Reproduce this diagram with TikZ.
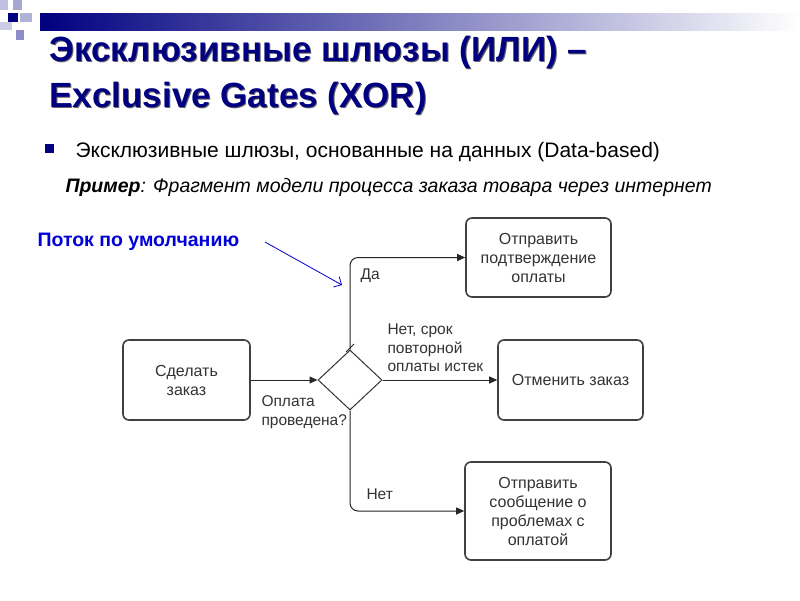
\documentclass[tikz,border=0pt]{standalone}
\usepackage{fontspec}
\setmainfont{Liberation Sans}
\usetikzlibrary{shapes.geometric,arrows.meta}
\definecolor{navy}{HTML}{000080}
\definecolor{boxline}{HTML}{404040}
\tikzset{
  task/.style={draw=boxline, line width=1.6pt, rounded corners=6pt, align=center,
    font=\fontsize{16}{19}\selectfont, text=black!80},
  flow/.style={draw=black!85, line width=1pt, -{Triangle[length=8pt,width=7pt]}},
  lbl/.style={font=\fontsize{15.5}{18.5}\selectfont, text=black!80, align=left, anchor=west}
}
\begin{document}
\begin{tikzpicture}[x=1pt,y=-1pt]
    \useasboundingbox (0,0) rectangle (800,600);
    \fill[white] (0,0) rectangle (800,600);

    % header decoration
    \shade[left color=navy, right color=white] (40,13) rectangle (800,30);
    \fill[navy!25] (0,0) rectangle (8,10);
    \fill[navy!35] (13,0) rectangle (22,10);
    \fill[navy] (8,13) rectangle (18,22);
    \fill[navy!30] (20,13) rectangle (32,22);
    \fill[navy!20] (0,22) rectangle (12,30);
    \fill[navy!45] (16,30) rectangle (24,40);

    % title
    \foreach \dx/\col in {1/black!60, 0/navy}{
      \node[anchor=west, text=\col, font=\fontsize{35}{40}\bfseries\selectfont]
        at (46+\dx,52+\dx) {Эксклюзивные шлюзы (ИЛИ) –};
      \node[anchor=west, text=\col, font=\fontsize{35}{40}\bfseries\selectfont]
        at (46+\dx,98+\dx) {Exclusive Gates (XOR)};
    }

    % bullet and example line
    \fill[navy] (45,144) rectangle (54,153);
    \node[anchor=west, font=\fontsize{21}{24}\selectfont] (bullet) at (72,152)
      {Эксклюзивные шлюзы, основанные на данных (Data-based)};
    \node[anchor=west, font=\fontsize{19.5}{23}\itshape\selectfont] (example) at (62,187)
      {\textbf{Пример}: Фрагмент модели процесса заказа товара через интернет};

    % default flow note
    \node[anchor=west, text=blue!85!black, font=\fontsize{19.5}{23}\bfseries\selectfont]
      (note) at (34,242) {Поток по умолчанию};
    \coordinate (notetip) at (342,285);
    \draw[blue!80!black, line width=0.8pt, -{Straight Barb[length=6pt]}] (265,242) -- (notetip);

    % tasks
    \node[task, minimum width=127pt, minimum height=80pt] (order) at (186.5,380) {Сделать\\заказ};
    \node[task, minimum width=145pt, minimum height=79pt] (confirm) at (538.5,257.5)
      {Отправить\\подтверждение\\оплаты};
    \node[task, minimum width=145pt, minimum height=80pt] (cancel) at (570.5,380) {Отменить заказ};
    \node[task, minimum width=146pt, minimum height=98pt] (problem) at (538,511)
      {Отправить\\сообщение о\\проблемах с\\оплатой};

    % gateway
    \node[diamond, draw=black!80, line width=1pt, minimum width=64pt, minimum height=60pt,
      inner sep=0pt] (gate) at (350,380) {};

    % flows
    \draw[flow] (order) -- (gate);
    \draw[flow] (gate) -- (cancel);
    \draw[flow, rounded corners=8pt] (gate.north) -- (gate.north |- confirm) -- (confirm);
    \draw[flow, rounded corners=8pt] (gate.south) -- (gate.south |- problem) -- (problem);
    \draw[black!85, line width=0.8pt] (346,352) -- (354,344);

    % labels
    \node[lbl] at (357,276) {Да};
    \node[lbl] at (384,348) {Нет, срок\\повторной\\оплаты истек};
    \node[lbl] at (258,412) {Оплата\\проведена?};
    \node[lbl] at (363,494) {Нет};
\end{tikzpicture}
\end{document}
